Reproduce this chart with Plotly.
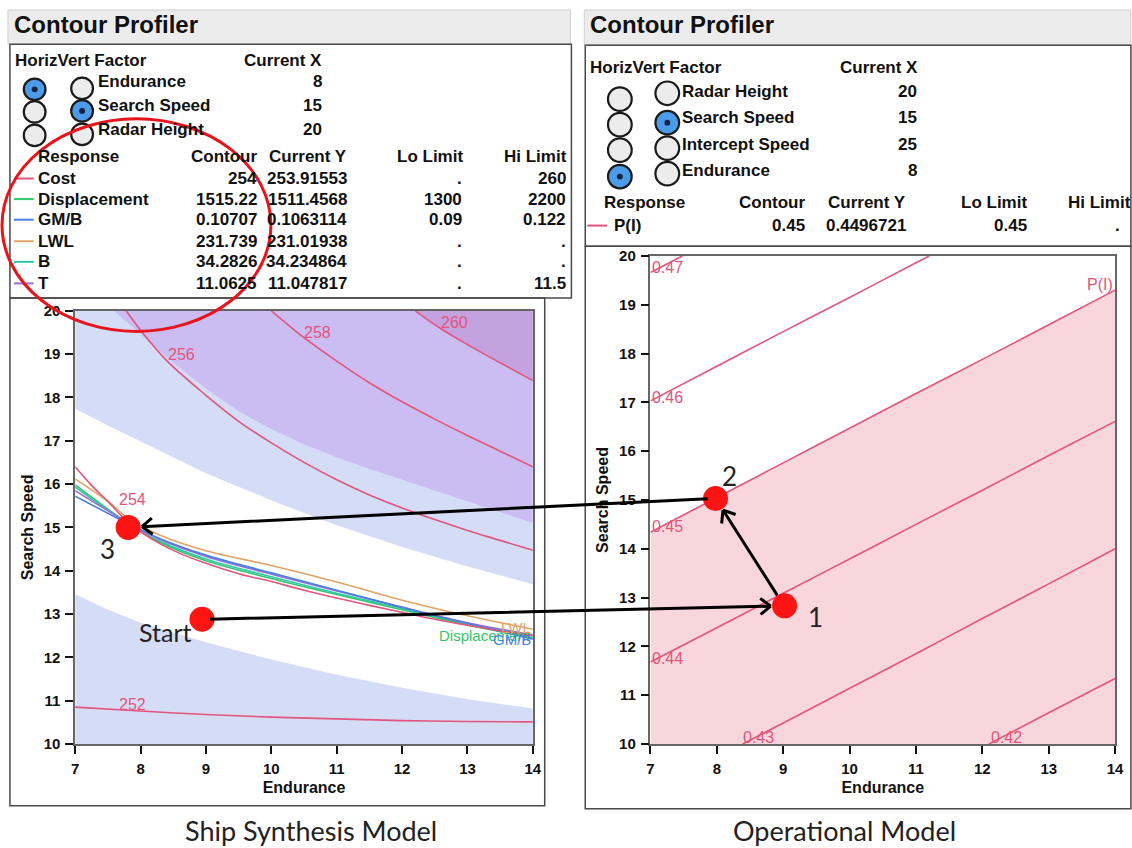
import math
import plotly.graph_objects as go

W, H = 1132, 848

# ---------------- data ----------------
endurance_ticks = [7, 8, 9, 10, 11, 12, 13, 14]
speed_ticks = [10, 11, 12, 13, 14, 15, 16, 17, 18, 19, 20]

# Ship Synthesis Model: infeasible-region boundaries (Endurance, Search Speed)
lowband_x = [7, 7.44, 8, 9, 10, 11, 12, 13, 14]
lowband_y = [13.46, 13.14, 12.8, 12.35, 11.95, 11.6, 11.3, 11.03, 10.82]
upband_x = [7, 7.5, 8, 8.26, 9, 10.14, 11, 12, 13, 14]
upband_y = [17.74, 17.35, 16.98, 16.79, 16.25, 15.54, 15.05, 14.55, 14.1, 13.69]
purple_x = [7.59, 8, 8.5, 9, 9.5, 10, 10.5, 11, 11.5, 12, 12.5, 13, 13.5, 14]
purple_y = [20, 19.45, 18.8, 18.2, 17.68, 17.27, 16.92, 16.62, 16.35, 16.1, 15.85, 15.6, 15.35, 15.1]

# Cost contours
cost252_x = [7, 8, 9, 10, 11, 12, 13, 14]
cost252_y = [10.85, 10.76, 10.68, 10.62, 10.58, 10.54, 10.52, 10.51]
cost254_x = [7, 7.25, 7.5, 7.82, 8, 8.3, 8.6, 9, 9.5, 10, 10.5, 11, 11.5, 12, 12.5, 13, 13.5, 14]
cost254_y = [16.4, 15.97, 15.6, 15.1, 14.9, 14.62, 14.4, 14.17, 13.93, 13.75, 13.55, 13.37, 13.2, 13.04, 12.88, 12.74, 12.61, 12.5]
cost256_x = [7.78, 8, 8.4, 9, 9.5, 10, 10.5, 11, 11.5, 12, 12.5, 13, 13.5, 14]
cost256_y = [20, 19.55, 18.85, 18.05, 17.45, 16.95, 16.5, 16.1, 15.75, 15.45, 15.18, 14.93, 14.7, 14.47]
cost258_x = [10, 10.5, 11, 11.5, 12, 12.5, 13, 13.5, 14]
cost258_y = [20, 19.38, 18.84, 18.34, 17.9, 17.5, 17.12, 16.76, 16.4]
cost260_x = [12.2, 12.6, 13, 13.5, 14]
cost260_y = [20, 19.58, 19.22, 18.8, 18.39]

# Other responses at their contour values
lwl_x = [7, 7.5, 7.82, 8.3, 9, 10, 11, 12, 13, 14]
lwl_y = [16.12, 15.6, 15.2, 14.82, 14.46, 14.12, 13.74, 13.32, 12.96, 12.65]
disp_x = [7, 7.5, 7.82, 8.3, 9, 10, 11, 12, 13, 14]
disp_y = [15.98, 15.42, 15.08, 14.65, 14.23, 13.82, 13.45, 13.1, 12.75, 12.45]
b_x = [7, 7.82, 8.3, 9, 10, 11, 12, 13, 14]
b_y = [15.93, 15.08, 14.68, 14.27, 13.86, 13.48, 13.13, 12.78, 12.5]
t_x = [7, 7.82, 8.3, 9, 10, 11, 12, 13, 14]
t_y = [15.85, 15.1, 14.72, 14.33, 13.92, 13.53, 13.16, 12.8, 12.52]
gmb_x = [7, 7.82, 8.3, 9, 10, 11, 12, 13, 14]
gmb_y = [15.72, 15.08, 14.74, 14.36, 13.95, 13.55, 13.15, 12.78, 12.42]

# Operational Model: P(I) contours
p047_x = [7, 7.48]
p047_y = [19.66, 20]
p046_x = [7, 8, 9, 10, 11, 11.2]
p046_y = [17.03, 17.74, 18.45, 19.15, 19.86, 20]
p045_x = [7, 8, 9, 10, 11, 12, 13, 14]
p045_y = [14.34, 15.05, 15.76, 16.47, 17.18, 17.88, 18.59, 19.3]
p044_x = [7, 8, 9, 10, 11, 12, 13, 14]
p044_y = [11.68, 12.38, 13.09, 13.79, 14.5, 15.2, 15.91, 16.61]
p043_x = [8.39, 9, 10, 11, 12, 13, 14]
p043_y = [10.0, 10.43, 11.14, 11.85, 12.57, 13.28, 14.0]
p042_x = [12.1, 13, 14]
p042_y = [10.0, 10.64, 11.34]

# Design points
start_pt = (8.94, 12.88)
pt3 = (7.81, 15.0)
pt1 = (9.02, 12.83)
pt2 = (7.98, 15.03)

# Table contents
left_factors = ["Endurance", "Search Speed", "Radar Height"]
left_current_x = ["8", "15", "20"]
left_responses = ["Cost", "Displacement", "GM/B", "LWL", "B", "T"]
left_contour = ["254", "1515.22", "0.10707", "231.739", "34.2826", "11.0625"]
left_current_y = ["253.91553", "1511.4568", "0.1063114", "231.01938", "34.234864", "11.047817"]
left_lo = [".", "1300", "0.09", ".", ".", "."]
left_hi = ["260", "2200", "0.122", ".", ".", "11.5"]
right_factors = ["Radar Height", "Search Speed", "Intercept Speed", "Endurance"]
right_current_x = ["20", "15", "25", "8"]
right_responses = ["P(I)"]
right_contour = ["0.45"]
right_current_y = ["0.4496721"]
right_lo = ["0.45"]
right_hi = ["."]

# ---------------- styles ----------------
PINK = "#e2557c"
C_COST, C_DISP, C_GMB, C_LWL, C_B, C_T = PINK, "#34c46a", "#4a7fe0", "#e0a468", "#2fc7a6", "#9a6fd8"
BLUE_FILL, PURPLE_FILL, DPURPLE_FILL = "#d5ddf6", "#cbbdf2", "#c4a2e0"
PINK_FILL = "#f9d5dc"
TFONT = "Liberation Sans, Arial, sans-serif"
CFONT = "Lato, Open Sans, sans-serif"

# plot geometry (pixels)
LX0, LX1, LYT, LYB = 72, 535, 308, 750
RX0, RX1, RYT, RYB = 654, 1124, 252, 750


def lpx(x, y):
    return LX0 + (x - 7) / 7 * (LX1 - LX0), LYB - (y - 10) / 10 * (LYB - LYT)


def rpx(x, y):
    return RX0 + (x - 7) / 7 * (RX1 - RX0), RYB - (y - 10) / 10 * (RYB - RYT)


def paper(px, py):
    return px / W, 1 - py / H


fig = go.Figure()


def poly(xs, ys, color, xa="x", ya="y"):
    fig.add_trace(go.Scatter(x=xs, y=ys, fill="toself", fillcolor=color, mode="lines",
                             line=dict(width=0, color=color), hoverinfo="skip",
                             showlegend=False, xaxis=xa, yaxis=ya))


def line(xs, ys, color, xa="x", ya="y", w=1.6):
    fig.add_trace(go.Scatter(x=xs, y=ys, mode="lines", line=dict(color=color, width=w, shape="spline"),
                             hoverinfo="skip", showlegend=False, xaxis=xa, yaxis=ya))


# left shading
poly([7] + lowband_x + [14], [10] + lowband_y + [10], BLUE_FILL)
poly([7] + upband_x + [14], [20] + upband_y + [20], BLUE_FILL)
poly(purple_x + [14], purple_y + [20], PURPLE_FILL)
poly(cost260_x + [14], cost260_y + [20], DPURPLE_FILL)

for xs, ys, c in [(cost252_x, cost252_y, C_COST), (cost256_x, cost256_y, C_COST),
                  (cost258_x, cost258_y, C_COST), (cost260_x, cost260_y, C_COST),
                  (lwl_x, lwl_y, C_LWL), (disp_x, disp_y, C_DISP), (b_x, b_y, C_B),
                  (t_x, t_y, C_T), (gmb_x, gmb_y, C_GMB), (cost254_x, cost254_y, C_COST)]:
    line(xs, ys, c)

# right shading and lines
poly([7] + p045_x + [14], [10] + p045_y + [10], PINK_FILL, "x2", "y2")
for xs, ys in [(p047_x, p047_y), (p046_x, p046_y), (p045_x, p045_y), (p044_x, p044_y),
               (p043_x, p043_y), (p042_x, p042_y)]:
    line(xs, ys, PINK, "x2", "y2")

# markers
fig.add_trace(go.Scatter(x=[start_pt[0], pt3[0]], y=[start_pt[1], pt3[1]], mode="markers",
                         marker=dict(size=25, color="#ff1414"), showlegend=False, hoverinfo="skip"))
fig.add_trace(go.Scatter(x=[pt1[0], pt2[0]], y=[pt1[1], pt2[1]], mode="markers",
                         marker=dict(size=25, color="#ff1414"), showlegend=False, hoverinfo="skip",
                         xaxis="x2", yaxis="y2"))

ann = []
shapes = []


def dlabel(x, y, s, color=PINK, size=16, xa="x", ya="y", anchor="center", family=TFONT):
    ann.append(dict(xref=xa, yref=ya, x=x, y=y, text=s, showarrow=False, xanchor=anchor,
                    yanchor="middle", font=dict(size=size, color=color, family=family)))


dlabel(7.88, 15.64, "254")
dlabel(8.62, 19.0, "256")
dlabel(10.71, 19.49, "258")
dlabel(12.8, 19.72, "260")
dlabel(7.88, 10.9, "252")
dlabel(14.0, 12.5, "Displacement", C_DISP, 15, anchor="right")
dlabel(14.0, 12.42, "GM/B", C_GMB, 15, anchor="right")
dlabel(14.0, 12.7, "LWL", C_LWL, 15, anchor="right")

dlabel(7.0, 19.76, "0.47", xa="x2", ya="y2", anchor="left")
dlabel(7.0, 17.1, "0.46", xa="x2", ya="y2", anchor="left")
dlabel(7.0, 14.45, "0.45", xa="x2", ya="y2", anchor="left")
dlabel(7.0, 11.76, "0.44", xa="x2", ya="y2", anchor="left")
dlabel(8.63, 10.13, "0.43", xa="x2", ya="y2")
dlabel(12.36, 10.13, "0.42", xa="x2", ya="y2")
dlabel(13.78, 19.42, "P(I)", xa="x2", ya="y2")

dlabel(7.5, 14.5, "3", "#222222", 26, family=CFONT)
dlabel(8.37, 12.58, "Start", "#222222", 25, family=CFONT)
dlabel(9.49, 12.6, "1", "#222222", 26, xa="x2", ya="y2", family=CFONT)
dlabel(8.19, 15.5, "2", "#222222", 26, xa="x2", ya="y2", family=CFONT)


def arrow(tail, head, r_tail=13, r_head=14):
    tx, ty = tail
    hx, hy = head
    dx, dy = hx - tx, hy - ty
    L = math.hypot(dx, dy)
    ux, uy = dx / L, dy / L
    sx, sy = tx + ux * r_tail, ty + uy * r_tail
    ex, ey = hx - ux * r_head, hy - uy * r_head
    x, y = paper(ex, ey)
    base = dict(xref="paper", yref="paper", x=x, y=y, text="", showarrow=True, arrowhead=0,
                arrowwidth=3, arrowcolor="#000000", axref="pixel", ayref="pixel")
    ann.append(dict(base, ax=sx - ex, ay=sy - ey))
    for sgn in (1, -1):
        a = math.radians(38) * sgn
        bx, by = -ux, -uy
        rx = bx * math.cos(a) - by * math.sin(a)
        ry = bx * math.sin(a) + by * math.cos(a)
        ann.append(dict(base, ax=rx * 15, ay=ry * 15))


arrow(lpx(*start_pt), rpx(*pt1))
arrow(rpx(*pt1), rpx(*pt2))
arrow(rpx(*pt2), lpx(*pt3))


# ---------------- panels / tables ----------------
def rect(x0, y0, x1, y1, fill=None, color="#4a4a4a", w=1.5, layer="above"):
    X0, Y0 = paper(x0, y0)
    X1, Y1 = paper(x1, y1)
    d = dict(type="rect", xref="paper", yref="paper", x0=X0, x1=X1, y0=Y1, y1=Y0,
             line=dict(color=color, width=w), layer=layer)
    if fill:
        d["fillcolor"] = fill
    shapes.append(d)


def txt(px, py, s, anchor="left", size=17, bold=True, color="#111111", family=TFONT):
    x, y = paper(px, py)
    ann.append(dict(xref="paper", yref="paper", x=x, y=y, text=f"<b>{s}</b>" if bold else s,
                    showarrow=False, xanchor=anchor, yanchor="middle",
                    font=dict(size=size, color=color, family=family)))


def seg(x0, x1, py, color, w=2):
    X0, Y = paper(x0, py)
    X1, _ = paper(x1, py)
    shapes.append(dict(type="line", xref="paper", yref="paper", x0=X0, x1=X1, y0=Y, y1=Y,
                       line=dict(color=color, width=w)))


def radio(px, py, selected, r=11):
    X0, Y0 = paper(px - r, py - r)
    X1, Y1 = paper(px + r, py + r)
    shapes.append(dict(type="circle", xref="paper", yref="paper", x0=X0, x1=X1, y0=Y1, y1=Y0,
                       fillcolor="#4b9be8" if selected else "#ececec",
                       line=dict(color="#1a1a1a", width=2.2)))
    if selected:
        X0, Y0 = paper(px - 3, py - 3)
        X1, Y1 = paper(px + 3, py + 3)
        shapes.append(dict(type="circle", xref="paper", yref="paper", x0=X0, x1=X1, y0=Y1, y1=Y0,
                           fillcolor="#0f2340", line=dict(width=0)))


# left panel
rect(4, 1, 573, 36, fill="#ececec", color="#cfcfcf", w=1, layer="below")
rect(6, 36, 574, 295)
rect(6, 295, 547, 813)
txt(8, 16, "Contour Profiler", size=24)
txt(9, 53, "HorizVert Factor", size=17)
txt(324, 53, "Current X", anchor="right")
rows_lf = [74, 98, 123]
rad_lh = [82, 105, 129]
rad_lv = [81, 104, 128]
for i, (f, v) in enumerate(zip(left_factors, left_current_x)):
    radio(31, rad_lh[i], i == 0)
    radio(79, rad_lv[i], i == 1)
    txt(93, rows_lf[i], f)
    txt(324, rows_lf[i], v, anchor="right")
txt(32, 151, "Response")
txt(258, 151, "Contour", anchor="right")
txt(349, 151, "Current Y", anchor="right")
txt(466, 151, "Lo Limit", anchor="right")
txt(572, 151, "Hi Limit", anchor="right")
rows_lr = [173, 194, 215, 237, 258, 280]
left_colors = [C_COST, C_DISP, C_GMB, C_LWL, C_B, C_T]
for i, name in enumerate(left_responses):
    y = rows_lr[i]
    seg(10, 30, y, left_colors[i])
    txt(32, y, name)
    txt(258, y, left_contour[i], anchor="right")
    txt(349, y, left_current_y[i], anchor="right")
    txt(465, y, left_lo[i], anchor="right")
    txt(571, y, left_hi[i], anchor="right")

# right panel
rect(587, 1, 1140, 36, fill="#ececec", color="#cfcfcf", w=1, layer="below")
rect(588, 37, 1140, 242)
rect(588, 242, 1140, 816)
txt(591, 16, "Contour Profiler", size=24)
txt(591, 60, "HorizVert Factor")
txt(927, 60, "Current X", anchor="right")
rows_rf = [84, 111, 138, 165]
rad_h = [92, 118, 144, 171]
rad_v = [86, 116, 142, 168]
for i, (f, v) in enumerate(zip(right_factors, right_current_x)):
    radio(623, rad_h[i], i == 3, 12)
    radio(671, rad_v[i], i == 1, 12)
    txt(684, rows_rf[i], f)
    txt(926, rows_rf[i], v, anchor="right")
txt(605, 197, "Response")
txt(812, 197, "Contour", anchor="right")
txt(914, 197, "Current Y", anchor="right")
txt(1037, 197, "Lo Limit", anchor="right")
txt(1142, 197, "Hi Limit", anchor="right")
seg(590, 610, 221, PINK)
txt(615, 221, right_responses[0])
txt(812, 221, right_contour[0], anchor="right")
txt(914, 221, right_current_y[0], anchor="right")
txt(1037, 221, right_lo[0], anchor="right")
txt(1131, 221, right_hi[0], anchor="right")

# red highlight ellipse
X0, Y0 = paper(-2, 112)
X1, Y1 = paper(270, 329)
shapes.append(dict(type="circle", xref="paper", yref="paper", x0=X0, x1=X1, y0=Y1, y1=Y0,
                   line=dict(color="#e8141c", width=3), layer="above"))

# captions
txt(311, 838, "Ship Synthesis Model", anchor="center", size=27, bold=False, color="#222222", family=CFONT)
txt(850, 838, "Operational Model", anchor="center", size=27, bold=False, color="#222222", family=CFONT)

axis_common = dict(range=[7, 14], tickvals=endurance_ticks, ticks="outside", ticklen=8, tickwidth=1.5,
                   tickcolor="#111", showline=True, linecolor="#666", linewidth=1.5, mirror=True,
                   showgrid=False, zeroline=False, ticklabelstandoff=2,
                   tickfont=dict(family=TFONT, size=15, color="#111", weight="bold"),
                   title=dict(text="Endurance", font=dict(family=TFONT, size=16, color="#111", weight="bold"),
                              standoff=6))
yaxis_common = dict(range=[10, 20], tickvals=speed_ticks, ticks="outside", ticklen=8, tickwidth=1.5,
                    tickcolor="#111", showline=True, linecolor="#666", linewidth=1.5, mirror=True,
                    showgrid=False, zeroline=False, ticklabelstandoff=2,
                    tickfont=dict(family=TFONT, size=15, color="#111", weight="bold"),
                    title=dict(text="Search Speed", font=dict(family=TFONT, size=16, color="#111", weight="bold"),
                               standoff=6))

lx0, ly_top = paper(LX0, LYT)
lx1, ly_bot = paper(LX1, LYB)
rx0, ry_top = paper(RX0, RYT)
rx1, ry_bot = paper(RX1, RYB)

fig.update_layout(
    width=W, height=H, margin=dict(l=0, r=0, t=0, b=0),
    paper_bgcolor="white", plot_bgcolor="white", showlegend=False,
    xaxis=dict(axis_common, domain=[lx0, lx1], anchor="y"),
    yaxis=dict(yaxis_common, domain=[ly_bot, ly_top], anchor="x"),
    xaxis2=dict(axis_common, domain=[rx0, rx1], anchor="y2"),
    yaxis2=dict(yaxis_common, domain=[ry_bot, ry_top], anchor="x2"),
    annotations=ann, shapes=shapes,
)

fig.write_html("out.html", config={"displayModeBar": False},
               post_script="document.body.style.margin='0';document.body.style.overflow='hidden';")
